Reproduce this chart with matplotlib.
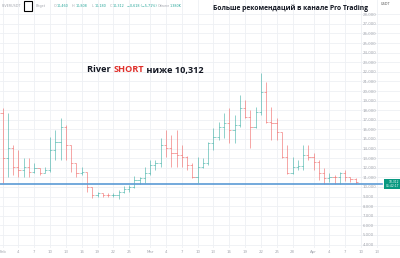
import matplotlib
matplotlib.use("Agg")
import matplotlib.pyplot as plt
import matplotlib.dates as mdates
import numpy as np
import pandas as pd

start = "2026-02-01"
opens = [17670, 12980, 14030, 12120, 11770, 12120, 11600, 11940, 11490, 11770,
         13850, 14720, 16280, 14370, 12460, 11420, 11560, 10030, 9170, 9340,
         9170, 9130, 9170, 9510, 9760, 10030, 10730, 10900, 11420, 12290,
         12530, 14370, 14030, 13500, 13330, 13160, 12290, 11080, 12120, 12460,
         14550, 15240, 16280, 16630, 15930, 16450, 18190, 17320, 16280, 17840,
         19920, 16800, 16630, 15760, 13160, 11420, 12120, 12190, 13330, 13160,
         12640, 11420, 10900, 11080, 11010, 11420, 11010, 10800]
highs = [18190, 17670, 14370, 13850, 12980, 12980, 12460, 11960, 12120, 15240,
         15930, 17150, 16450, 14400, 12480, 12120, 11600, 10050, 9510, 9410,
         9410, 9410, 9690, 10100, 10210, 11150, 11080, 12120, 12810, 12810,
         15070, 15930, 15410, 15930, 14370, 13180, 12460, 13160, 12980, 14720,
         16110, 16800, 17670, 18190, 17490, 19580, 19060, 18020, 18360, 21830,
         20970, 18360, 17150, 15780, 14370, 13160, 12810, 14370, 14370, 13500,
         12810, 11940, 11420, 11250, 11600, 11770, 11080, 10900]
lows = [10380, 11080, 11250, 11080, 11080, 11080, 11420, 11250, 11420, 11600,
        12810, 12810, 12810, 11600, 11080, 11250, 9510, 8820, 8990, 8920,
        8920, 8920, 8720, 9340, 9510, 9860, 10310, 10450, 11250, 11770,
        12120, 13160, 12120, 12120, 12120, 11770, 10900, 10380, 11940, 12290,
        13850, 14890, 15070, 14550, 14550, 16280, 17150, 14030, 16110, 17490,
        16630, 14890, 14890, 12980, 11350, 11350, 11770, 11770, 12810, 11770,
        10730, 10310, 10560, 10310, 10310, 10660, 10520, 10310]
closes = [12980, 14030, 12120, 11770, 12120, 11600, 11940, 11490, 11770, 13850,
          14720, 16280, 14370, 12460, 11420, 11560, 10030, 9170, 9340, 9170,
          9130, 9170, 9510, 9760, 10030, 10730, 10900, 11420, 12290, 12530,
          14370, 14030, 13500, 13330, 13160, 12290, 11080, 12120, 12460, 14550,
          15240, 16280, 16630, 15930, 16450, 18190, 17320, 16280, 17840, 19920,
          16800, 16630, 15760, 13160, 11420, 12120, 12190, 13330, 13160, 12640,
          11420, 10900, 11080, 11010, 11420, 11010, 10800, 10520]

level = 10312
ytick_vals = list(range(4000, 28001, 1000))
ytick_labels = [f"{v:,}" for v in ytick_vals]
xtick_dates = ["2026-02-01", "2026-02-04", "2026-02-07", "2026-02-10", "2026-02-13",
               "2026-02-16", "2026-02-19", "2026-02-22", "2026-02-25",
               "2026-03-01", "2026-03-04", "2026-03-07", "2026-03-10", "2026-03-13",
               "2026-03-16", "2026-03-19", "2026-03-22", "2026-03-25", "2026-03-28",
               "2026-04-01", "2026-04-04", "2026-04-07", "2026-04-10", "2026-04-13"]
xtick_labels = ["Feb", "4", "7", "10", "13", "16", "19", "22", "25",
                "Mar", "4", "7", "10", "13", "16", "19", "22", "25", "28",
                "Apr", "4", "7", "10", "13"]

UP = "#26a69a"
DOWN = "#ef5350"

dates = pd.date_range(start, periods=len(opens), freq="D")
x = mdates.date2num(dates)
o = np.array(opens); h = np.array(highs); l = np.array(lows); c = np.array(closes)
cols = [UP if cc >= oo else DOWN for oo, cc in zip(o, c)]

fig = plt.figure(figsize=(4.0, 2.58), dpi=100)
ax = fig.add_axes([0, 10/258, 1, 248/258])
fig.patch.set_facecolor("white")

x0 = mdates.date2num(pd.Timestamp(start))
ax.set_xlim(x0 - 0.51, x0 + 75.4)
ax.set_ylim(3645, 29480)

xt = mdates.date2num(pd.to_datetime(xtick_dates))
ax.set_xticks(xt)
ax.set_xticklabels(xtick_labels)
ax.set_yticks(ytick_vals)
ax.set_yticklabels(ytick_labels)
ax.yaxis.tick_right()
ax.tick_params(axis="y", length=0, pad=-27, labelsize=2.8, labelcolor="#a3a6ae")
ax.tick_params(axis="x", length=0, pad=1.2, labelsize=2.8, labelcolor="#a3a6ae")
ax.grid(True, color="#eef0f4", linewidth=0.6)
ax.set_axisbelow(True)
for s in ax.spines.values():
    s.set_visible(False)

hw = 0.42
ax.vlines(x, l, h, colors=cols, linewidth=0.6, alpha=0.6)
ax.hlines(o, x - hw, x, colors=cols, linewidth=0.6, alpha=0.6)
ax.hlines(c, x, x + hw, colors=cols, linewidth=0.6, alpha=0.6)

ax.axhline(level, color="#5b9bd5", linewidth=1.2, xmax=0.955)
ax.text(0.9975, level, f"{level:,}\n05:42:17", transform=ax.get_yaxis_transform(),
        ha="right", va="center", fontsize=2.2, color="white", linespacing=1.1,
        bbox=dict(boxstyle="square,pad=0.35", fc="#089981", ec="none"))

fig.text(0.965, 1 - 4/258, "USDT", fontsize=2.5, color="#555", ha="center", va="center")

# Header
fs_h = 2.4
gray = "#a3a6ae"
header = [(2, "RIVERUSDT", gray), (36, "Bitget", gray), (54, "O", gray), (57, "10,460", UP),
          (72, "H", gray), (76, "10,808", UP), (92, "L", gray), (95, "10,180", UP),
          (110, "C", gray), (113, "10,312", UP), (127, "−0,618 (−5,71%)", UP),
          (158, "Объем", gray), (170, "1,380K", UP)]
for px, t, col in header:
    fig.text(px/400, 1 - 6/258, t, fontsize=fs_h, color=col, ha="left", va="center")
fig.add_artist(plt.Rectangle((24/400, 1 - 11/258), 8/400, 10/258, transform=fig.transFigure,
                             fill=False, ec="black", lw=0.8))

fig.text(213/400, 1 - 8/258, "Больше рекомендаций в канале Pro Trading", fontsize=4.9,
         fontweight="bold", family="Open Sans", color="#131722", ha="left", va="center")

fs_c = 6.6
t1 = fig.text(87/400, 1 - 70/258, "River ", fontsize=fs_c, fontweight="bold",
              family="Open Sans", color="#131722", ha="left", va="center")
fig.canvas.draw()
r = fig.canvas.get_renderer()
bb = t1.get_window_extent(r)
t2 = fig.text(bb.x1/400, 1 - 70/258, "SHORT", fontsize=fs_c, fontweight="bold",
              family="Open Sans", color="#e0302b", ha="left", va="center")
bb2 = t2.get_window_extent(r)
fig.text(bb2.x1/400, 1 - 70/258, " ниже 10,312", fontsize=fs_c, fontweight="bold",
         family="Open Sans", color="#131722", ha="left", va="center")

fig.savefig("out.png", dpi=100)
